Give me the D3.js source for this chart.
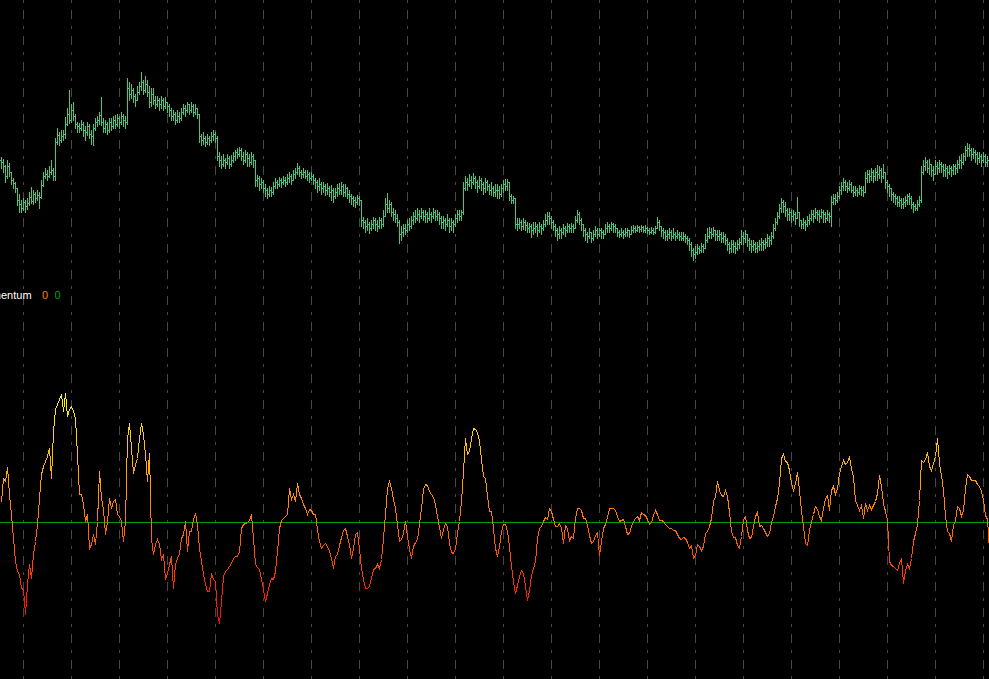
<!DOCTYPE html>
<html><head><meta charset="utf-8">
<script src="https://cdn.jsdelivr.net/npm/d3@7"></script>
<style>html,body{margin:0;padding:0;background:#000;overflow:hidden}</style>
</head><body>
<svg id="c" width="989" height="679"></svg>
<script>
// ---- DATA (price in chart points, momentum in points) ----
const open = [
140,138,134,124,134,128,120,117,112,100, 96,92,98,94,97,103,99,106,102,105,
103,115,124,126,124,128,130,124,158,165, 160,164,166,176,186,180,190,184,176,174,
172,176,170,168,174,166,164,172,178,180, 185,178,172,176,170,178,174,180,176,182,
178,184,180,178,212,206,210,204,200,208, 214,218,210,216,208,198,206,200,196,200,
196,200,194,198,194,190,184,186,180,184, 182,188,192,190,196,190,194,188,192,186,
164,160,162,158,162,160,164,166,162,144, 140,136,140,138,142,136,140,144,148,146,
150,144,140,146,142,138,144,140,120,122, 116,118,112,110,106,110,108,114,118,116,
120,118,120,118,122,124,120,126,128,132, 128,126,128,124,126,122,124,120,118,114,
116,112,114,110,112,108,110,104,108,112, 110,114,108,112,106,104,102,100,98,102,
100,80,78,74,76,72,76,80,76,74, 80,76,84,96,92,96,88,86,82,78,
66,68,72,70,76,74,80,84,82,86, 84,88,84,86,82,86,84,88,84,86,
82,78,80,76,80,74,78,76,82,86, 84,88,112,118,116,120,118,122,118,114,
120,116,112,118,114,110,112,108,110,110, 106,112,116,114,118,104,100,102,76,76,
78,74,78,75,72,74,70,72,74,70, 74,72,76,80,84,82,78,74,70,66,
70,68,72,70,74,72,74,72,80,86, 80,76,70,66,64,68,62,66,70,66,
70,68,66,72,74,72,76,74,72,68, 66,68,66,68,70,66,70,72,70,73,
71,73,70,72,70,68,70,68,72,78, 74,70,68,64,66,68,64,66,64,66,
64,62,64,62,60,56,50,46,48,52, 50,54,52,60,64,68,66,70,66,64,
66,62,64,60,56,52,56,54,52,56, 58,64,62,66,60,56,54,56,52,54,
56,58,56,58,62,60,64,72,78,84, 92,98,94,90,86,88,84,86,82,88,
80,76,78,76,80,82,86,84,88,86, 84,88,86,82,86,84,98,102,100,104,
110,114,118,114,112,116,110,108,110,108, 112,110,108,122,126,124,128,124,128,126,
130,124,128,118,114,112,106,104,102,98, 100,96,98,100,104,102,96,94,92,96,
100,128,134,138,132,136,130,126,134,132, 136,134,130,132,128,132,130,134,132,136,
140,138,144,150,152,150,146,148,146,142, 144,140,144,138,140];
const high = [
143,141,135,140,137,128,122,118,112,106, 100,102,100,102,108,113,110,108,110,108,
120,128,132,130,134,140,132,162,172,168, 170,170,183,192,210,196,198,186,178,177,
180,178,174,178,176,170,176,182,184,188, 203,182,180,178,182,182,184,185,186,184,
188,186,184,222,218,216,212,206,214,218, 228,220,224,220,214,212,212,204,204,202,
204,202,203,198,196,192,190,188,190,188, 192,196,195,198,196,198,196,196,192,186,
166,168,164,166,164,168,170,168,164,148, 144,146,142,146,144,145,148,150,152,153,
152,148,150,148,146,148,146,140,125,124, 122,120,116,112,114,113,118,122,120,123,
122,124,123,126,128,126,130,132,137,134, 130,132,130,130,128,128,126,122,120,122,
118,118,116,117,114,115,112,112,116,117, 118,116,116,113,110,106,104,103,105,104,
100,83,80,82,78,80,83,82,80,83, 82,90,102,107,100,98,92,90,86,80,
74,76,76,80,82,84,88,90,92,90, 92,90,90,88,92,88,92,90,90,88,
84,84,82,86,82,82,80,86,90,90, 90,118,124,122,126,124,127,124,120,124,
122,118,122,120,116,118,114,116,116,114, 116,120,121,121,112,106,104,100,82,82,
80,82,80,78,77,76,78,78,76,78, 76,80,86,88,88,84,80,76,72,74,
72,76,74,77,76,77,76,84,90,88, 82,76,72,68,72,68,70,74,72,72,
72,70,76,78,76,78,77,76,72,70, 72,70,72,72,70,74,75,74,75,74,
75,74,75,73,72,73,72,74,83,80, 74,72,70,70,72,70,72,68,70,68,
68,68,66,64,62,58,52,54,56,54, 57,56,66,72,73,72,73,70,70,70,
68,68,66,62,58,60,60,58,60,62, 70,68,70,66,62,60,60,58,58,60,
62,60,62,66,64,68,76,82,88,96, 102,100,98,92,92,90,90,88,103,86,
80,82,80,84,86,90,90,92,90,90, 91,90,88,90,88,104,106,106,108,114,
118,122,120,118,120,118,114,114,112,115, 114,114,128,130,130,132,130,132,135,134,
132,136,128,120,116,112,108,106,104,104, 102,102,104,106,107,104,98,96,100,104,
134,140,143,140,141,136,134,140,138,140, 138,136,136,134,135,134,136,136,140,144,
146,147,154,157,156,152,152,150,148,148, 146,148,146,144,146];
const low = [
132,128,118,122,124,116,112,108,95,88, 88,90,88,91,95,97,96,98,100,92,
102,114,122,120,123,126,120,120,156,155, 158,160,162,175,177,178,180,172,168,168,
170,164,160,165,162,156,155,170,174,176, 175,168,168,166,168,170,172,172,174,172,
176,174,172,176,200,202,198,194,200,206, 210,206,208,204,193,194,196,192,194,190,
192,190,192,188,184,180,180,176,178,178, 180,186,184,188,186,188,184,186,182,158,
155,156,154,156,155,158,160,158,140,134, 132,134,132,136,132,134,138,140,142,144,
140,136,138,134,134,136,133,114,114,110, 112,108,104,102,104,104,106,112,112,114,
113,116,114,116,118,116,120,122,126,124, 122,123,122,120,118,120,116,112,108,110,
106,108,105,106,104,100,98,102,104,106, 106,104,104,102,98,96,94,93,96,95,
74,72,68,70,67,70,72,70,69,72, 72,74,86,88,88,84,80,78,74,57,
60,64,66,68,70,72,76,78,80,78, 82,80,78,78,80,78,82,80,80,76,
72,72,70,74,68,70,68,74,78,80, 80,86,110,110,114,112,116,112,108,112,
110,106,108,110,106,105,104,104,102,102, 104,108,110,110,100,97,97,72,70,72,
70,71,70,68,68,63,66,68,64,68, 66,70,74,76,76,72,70,64,60,62,
62,66,64,68,68,68,68,72,78,76, 70,64,60,58,62,58,60,64,62,64,
62,62,66,68,68,70,68,68,64,63, 64,62,64,64,63,66,68,68,69,68,
69,68,68,67,66,67,66,67,72,70, 64,62,60,60,62,60,62,60,62,60,
60,60,58,56,50,44,40,42,46,47, 48,48,54,58,62,62,64,60,60,60,
58,58,56,50,47,48,48,47,50,52, 56,56,58,54,50,48,50,48,48,50,
50,50,52,54,54,56,62,70,76,82, 88,88,84,80,80,78,80,76,82,74,
72,72,70,74,76,80,78,82,80,78, 82,78,78,80,78,74,96,96,98,102,
106,110,110,108,110,108,104,105,104,106, 105,104,108,118,118,120,118,120,120,122,
118,122,112,108,104,100,98,96,94,94, 92,92,94,96,96,92,88,90,90,94,
98,126,130,128,126,124,120,126,126,128, 128,124,124,122,126,124,126,126,128,132,
132,136,140,144,144,140,142,138,136,138, 134,138,134,134,136];
const close = [
138,134,124,134,128,120,117,112,100,96, 92,98,94,97,103,99,106,102,105,103,
115,124,126,124,128,130,124,158,165,160, 164,166,176,186,180,190,184,176,174,172,
176,170,168,174,166,164,172,178,180,185, 178,172,176,170,178,174,180,176,182,178,
184,180,178,212,206,210,204,200,208,214, 218,210,216,208,198,206,200,196,200,196,
200,194,198,194,190,184,186,180,184,182, 188,192,190,196,190,194,188,192,186,164,
160,162,158,162,160,164,166,162,144,140, 136,140,138,142,136,140,144,148,146,150,
144,140,146,142,138,144,140,120,122,116, 118,112,110,106,110,108,114,118,116,120,
118,120,118,122,124,120,126,128,132,128, 126,128,124,126,122,124,120,118,114,116,
112,114,110,112,108,110,104,108,112,110, 114,108,112,106,104,102,100,98,102,100,
80,78,74,76,72,76,80,76,74,80, 76,84,96,92,96,88,86,82,78,66,
68,72,70,76,74,80,84,82,86,84, 88,84,86,82,86,84,88,84,86,82,
78,80,76,80,74,78,76,82,86,84, 88,112,118,116,120,118,122,118,114,120,
116,112,118,114,110,112,108,110,110,106, 112,116,114,118,104,100,102,76,76,78,
74,78,75,72,74,70,72,74,70,74, 72,76,80,84,82,78,74,70,66,70,
68,72,70,74,72,74,72,80,86,80, 76,70,66,64,68,62,66,70,66,70,
68,66,72,74,72,76,74,72,68,66, 68,66,68,70,66,70,72,70,73,71,
73,70,72,70,68,70,68,72,78,74, 70,68,64,66,68,64,66,64,66,64,
62,64,62,60,56,50,46,48,52,50, 54,52,60,64,68,66,70,66,64,66,
62,64,60,56,52,56,54,52,56,58, 64,62,66,60,56,54,56,52,54,56,
58,56,58,62,60,64,72,78,84,92, 98,94,90,86,88,84,86,82,88,80,
76,78,76,80,82,86,84,88,86,84, 88,86,82,86,84,98,102,100,104,110,
114,118,114,112,116,110,108,110,108,112, 110,108,122,126,124,128,124,128,126,130,
124,128,118,114,112,106,104,102,98,100, 96,98,100,104,102,96,94,92,96,100,
128,134,138,132,136,130,126,134,132,136, 134,130,132,128,132,130,134,132,136,140,
138,144,150,152,150,146,148,146,142,144, 140,144,138,140,142];
const momentum = [
20,44,41,55,28,8,-16,-39,-49,-52, -66,-67,-92,-62,-42,-56,-32,-19,-2,24,
48,56,61,66,74,44,91,113,118,123, 128,111,129,106,113,116,111,104,68,28,
28,18,1,8,-26,-22,-12,-22,1,51, 24,13,-12,1,24,14,21,23,8,6,
1,-19,1,84,99,74,49,58,64,84, 99,88,68,41,69,-16,-32,-22,-17,-22,
-37,-32,-57,-51,-42,-34,-66,-42,-36,-31, -16,-12,1,-29,-9,-9,3,9,-2,-26,
-39,-52,-62,-69,-69,-51,-57,-59,-92,-101, -79,-54,-49,-47,-44,-41,-36,-34,-34,-29,
-6,-2,-1,0,2,8,-16,-42,-45,-47, -57,-67,-79,-71,-62,-56,-57,-49,-29,-6,
2,4,6,8,34,23,28,21,39,28, 24,18,14,8,13,12,8,8,-7,-19,
-26,-23,-21,-24,-29,-36,-46,-34,-32,-23, -15,-8,-6,-14,-22,-36,-26,-12,-10,-26,
-46,-57,-66,-66,-64,-56,-47,-46,-42,-46, -37,-16,8,34,41,34,23,14,-2,-19,
-17,-11,1,-14,-27,-36,-24,-20,-17,-2, 14,33,38,37,31,28,25,18,6,-5,
-16,-7,-1,-4,-21,-30,-31,-26,-11,1, 21,51,84,68,71,84,94,93,90,81,
63,46,44,26,11,11,-6,-26,-34,-24, -9,-2,-2,-9,-24,-44,-59,-71,-63,-54,
-48,-51,-64,-78,-68,-53,-46,-39,-16,-6, -4,1,5,3,14,11,3,-4,-4,-1,
-6,-21,-3,-6,-18,-14,-16,4,14,14, 12,4,4,-3,-13,-21,-19,-13,-10,-33,
-19,-6,-2,5,14,14,14,12,6,1, 2,3,-4,-12,-11,-4,1,4,6,2,
10,8,7,3,-2,0,7,12,8,2, 2,1,-2,-4,-6,-6,-8,-8,-12,-16,
-17,-15,-16,-20,-26,-23,-36,-33,-22,-24, -28,-24,-11,-9,-4,4,21,26,41,32,
27,26,32,26,10,-9,-15,-15,-23,-26, -14,3,6,-8,-16,-15,-4,6,10,-4,
-3,-6,-10,-14,-11,0,6,16,24,39, 64,68,61,60,52,39,32,39,50,32,
12,-4,-21,-23,-8,1,8,16,13,6, 2,14,24,27,12,32,36,28,34,49,
56,62,58,60,66,54,46,22,17,12, 17,4,19,12,17,13,17,21,29,47,
36,19,11,2,-39,-43,-44,-46,-48,-41, -36,-61,-48,-42,-46,-36,-19,-11,-2,22,
62,60,63,70,56,52,59,66,84,59, 47,32,6,-9,-11,-19,-3,2,16,14,
6,12,34,48,46,42,42,42,38,36, 31,22,7,3,-28];
// bar indices where the session separators fall
const separators = [11,35,59,83,107,131,155,179,203,227,251,275,299,323,347,371,395,419,443,467,491];
const indicatorName = "Momentum";
const indicatorValues = ["0", "0"];

// ---- LAYOUT / STYLE ----
const W = 989, H = 679;
const barColor = "#3cc88c";
const gridColor = "#474747";
const zeroColor = "#00a000";
const valueColors = ["#ff7f00", "#00a000"];

const svg = d3.select("#c");
svg.append("rect").attr("width", W).attr("height", H).attr("fill", "#000");

const n = close.length;
const x = d3.scaleLinear().domain([0, n - 1]).range([1.5, 1.5 + 2 * (n - 1)]);
const yP = d3.scaleLinear().domain([40, 230]).range([260.5, 70.5]);
const yM = d3.scaleLinear().domain([-105, 130]).range([627.5, 392.5]);

// separators (dash-dot)
svg.append("g").selectAll("line").data(separators).join("line")
  .attr("x1", d => x(d)).attr("x2", d => x(d))
  .attr("y1", 0).attr("y2", H)
  .attr("stroke", gridColor).attr("stroke-width", 1)
  .attr("stroke-dasharray", "9,7,3,7").attr("stroke-dashoffset", 16)
  .attr("shape-rendering", "crispEdges");

// OHLC bars
const p = d3.path();
close.forEach((c, i) => {
  const cx = x(i);
  const top = yP(Math.max(high[i], open[i], c));
  const bot = yP(Math.min(low[i], open[i], c));
  p.moveTo(cx, top - 0.5); p.lineTo(cx, bot + 0.5);
  p.moveTo(cx - 1.5, yP(open[i])); p.lineTo(cx - 0.5, yP(open[i]));
  p.moveTo(cx + 0.5, yP(c)); p.lineTo(cx + 1.5, yP(c));
});
svg.append("path").attr("d", p.toString())
  .attr("fill", "none").attr("stroke", barColor).attr("stroke-width", 1)
  .attr("shape-rendering", "crispEdges");

// indicator label
const lbl = svg.append("g").attr("font-family", "'Liberation Sans', Arial, sans-serif").attr("font-size", 11);
const probe = lbl.append("text").text("Mom");
const cut = probe.node().getComputedTextLength();
probe.remove();
lbl.append("text").attr("x", 1 - cut).attr("y", 299).attr("fill", "#ffffff").text(indicatorName);
lbl.selectAll("text.v").data(indicatorValues).join("text").attr("class", "v")
  .attr("x", (d, i) => 42 + i * 12.5).attr("y", 299)
  .attr("fill", (d, i) => valueColors[i]).text(d => d);

// momentum gradient (yellow high -> red low)
const defs = svg.append("defs");
const grad = defs.append("linearGradient").attr("id", "mg")
  .attr("gradientUnits", "userSpaceOnUse")
  .attr("x1", 0).attr("x2", 0).attr("y1", yM(130)).attr("y2", yM(-105));
grad.append("stop").attr("offset", 0).attr("stop-color", "#ffff00");
grad.append("stop").attr("offset", 1).attr("stop-color", "#ff0000");

svg.append("line").attr("x1", 0).attr("x2", W).attr("y1", yM(0)).attr("y2", yM(0))
  .attr("stroke", zeroColor).attr("stroke-width", 1).attr("shape-rendering", "crispEdges");

const line = d3.line().x((d, i) => x(i)).y(d => yM(d));
svg.append("path").datum(momentum).attr("d", line)
  .attr("fill", "none").attr("stroke", "url(#mg)").attr("stroke-width", 1)
  .attr("shape-rendering", "crispEdges");
</script>
</body></html>
